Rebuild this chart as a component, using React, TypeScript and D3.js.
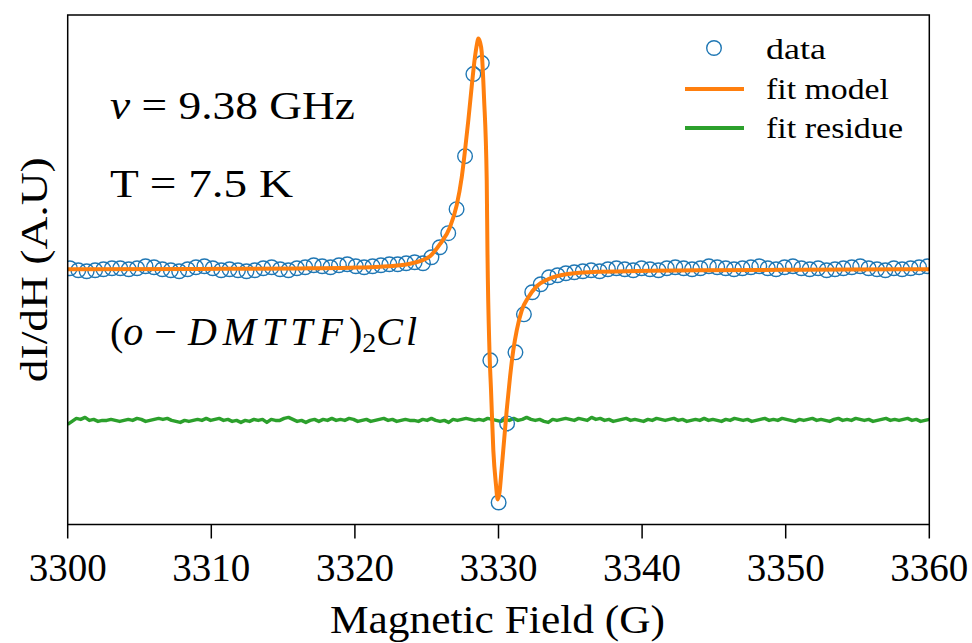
import React from "react";
import * as d3 from "d3";

// ---- data ----
const fieldTicks = [3300, 3310, 3320, 3330, 3340, 3350, 3360];

const dataX = [
  3300.15, 3300.74, 3301.32, 3301.91, 3302.49, 3303.08, 3303.66, 3304.25, 3304.83, 3305.42,
  3306.01, 3306.59, 3307.18, 3307.76, 3308.35, 3308.93, 3309.52, 3310.10, 3310.69, 3311.27,
  3311.86, 3312.45, 3313.03, 3313.62, 3314.20, 3314.79, 3315.37, 3315.96, 3316.54, 3317.13,
  3317.72, 3318.30, 3318.89, 3319.47, 3320.06, 3320.64, 3321.23, 3321.81, 3322.40, 3322.98,
  3323.57, 3324.16, 3324.74, 3325.33, 3325.91, 3326.50, 3327.08, 3327.67, 3328.25, 3328.84,
  3329.43, 3330.01, 3330.60, 3331.18, 3331.77, 3332.35, 3332.94, 3333.52, 3334.11, 3334.69,
  3335.28, 3335.87, 3336.45, 3337.04, 3337.62, 3338.21, 3338.79, 3339.38, 3339.96, 3340.55,
  3341.14, 3341.72, 3342.31, 3342.89, 3343.48, 3344.06, 3344.65, 3345.23, 3345.82, 3346.40,
  3346.99, 3347.58, 3348.16, 3348.75, 3349.33, 3349.92, 3350.50, 3351.09, 3351.67, 3352.26,
  3352.85, 3353.43, 3354.02, 3354.60, 3355.19, 3355.77, 3356.36, 3356.94, 3357.53, 3358.11,
  3358.70, 3359.29, 3359.87,
];

const dataY = [
  0.01, -0.01, -0.02, -0.01, 0.0, 0.01, 0.01, 0.0, 0.01, 0.03,
  0.02, 0.0, -0.01, -0.02, 0.0, 0.02, 0.03, 0.01, -0.01, 0.0,
  -0.01, -0.02, -0.01, 0.01, 0.02, 0.0, -0.01, 0.01, 0.02, 0.04,
  0.03, 0.02, 0.04, 0.05, 0.03, 0.02, 0.03, 0.04, 0.05, 0.05,
  0.06, 0.07, 0.06, 0.12, 0.22, 0.36, 0.6, 1.13, 1.95, 2.06,
  -0.91, -2.33, -1.54, -0.83, -0.45, -0.23, -0.15, -0.08, -0.06, -0.04,
  -0.03, -0.02, -0.01, -0.02, 0.0, 0.01, 0.0, -0.01, 0.01, 0.0,
  -0.01, 0.01, 0.02, 0.01, 0.0, 0.01, 0.03, 0.02, 0.01, 0.0,
  0.01, 0.02, 0.03, 0.01, 0.0, 0.02, 0.03, 0.01, 0.0, 0.01,
  -0.01, 0.0, 0.01, 0.02, 0.03, 0.01, 0.0, -0.01, 0.01, 0.0,
  0.01, 0.02, 0.03,
];

const fitX = [
  3300.0, 3309.21, 3316.18, 3319.66, 3321.75, 3323.14, 3323.84, 3324.53, 3325.23, 3325.92,
  3326.62, 3327.09, 3327.44, 3327.67, 3327.9, 3328.13, 3328.36, 3328.5, 3328.59, 3328.71,
  3328.83, 3328.99, 3329.18, 3329.23, 3329.37, 3329.48, 3329.64, 3329.83, 3329.94, 3330.07,
  3330.21, 3330.33, 3330.57, 3330.8, 3331.03, 3331.27, 3331.62, 3332.08, 3332.66, 3333.45,
  3334.7, 3337.07, 3340.55, 3344.04, 3351.0, 3360.0,
];

const fitY = [
  0.0, 0.003, 0.008, 0.015, 0.025, 0.04, 0.055, 0.08, 0.13, 0.25,
  0.42, 0.64, 0.92, 1.19, 1.49, 1.82, 2.12, 2.25, 2.305, 2.27,
  2.17, 1.72, 0.89, 0.19, -0.81, -1.21, -1.81, -2.16, -2.3, -2.23,
  -2.01, -1.81, -1.41, -1.08, -0.81, -0.61, -0.41, -0.28, -0.17, -0.1,
  -0.05, -0.025, -0.015, -0.01, -0.005, 0.0,
];

const residueOffset = -1.51;
const residue = [
  -0.04, -0.01, 0.02, 0.01, 0.03, 0.0, 0.01, -0.01, 0.0, 0.0,
  0.01, 0.0, -0.01, 0.0, 0.01, 0.0, 0.02, 0.01, -0.01, 0.0,
  0.01, 0.02, 0.01, 0.02, 0.0, -0.01, -0.02, 0.0, -0.01, 0.0,
  0.01, 0.0, 0.02, 0.0, 0.01, 0.02, 0.0, 0.01, -0.01, 0.0,
  -0.02, 0.0, -0.01, 0.01, 0.0, 0.01, -0.02, 0.01, 0.0, 0.0,
  0.02, 0.03, 0.01, -0.01, 0.0, -0.02, 0.0, 0.01, -0.01, 0.01,
  0.0, 0.02, 0.0, 0.01, 0.0, 0.02, 0.01, -0.01, 0.0, 0.01,
  -0.01, 0.0, 0.01, 0.02, 0.0, 0.01, -0.01, 0.0, 0.01, 0.0,
  0.0, -0.01, 0.01, 0.0, 0.02, 0.0, -0.01, 0.0, -0.02, 0.01,
  0.0, 0.01, 0.02, 0.01, 0.0, 0.01, 0.0, 0.02, 0.01, 0.0,
  -0.01, 0.01, 0.0, 0.02, 0.0, 0.01, 0.03, 0.01, 0.0, 0.01,
  -0.01, -0.02, 0.01, 0.0, 0.01, 0.02, 0.01, 0.0, 0.02, 0.01,
  0.0, 0.03, 0.01, 0.02, 0.0, 0.01, -0.01, 0.0, 0.01, 0.02,
  0.0, 0.01, 0.0, -0.01, 0.01, 0.0, 0.02, 0.01, 0.0, 0.01,
  0.02, 0.0, 0.01, -0.01, 0.0, 0.01, 0.0, 0.02, 0.0, 0.01,
  0.0, -0.01, 0.01, 0.0, 0.02, 0.01, 0.0, 0.01, -0.01, 0.0,
  0.01, 0.02, 0.0, 0.01, 0.0, 0.02, 0.01, 0.0, -0.01, 0.01,
  0.0, 0.01, 0.02, 0.0, 0.01, 0.0, -0.01, 0.01, 0.02, 0.0,
  0.01, 0.0, 0.02, 0.01, 0.0, 0.01, -0.01, 0.0, 0.01, 0.02,
  0.0, 0.01, 0.0, 0.01, 0.02, 0.0, 0.01, -0.01, 0.0, 0.01,
];

const legendLabels = ["data", "fit model", "fit residue"];

// ---- layout ----
const W = 972;
const H = 643;
const left = 67.7;
const right = 929.3;
const top = 15;
const bottom = 524.5;
const BLUE = "#1f77b4";
const ORANGE = "#ff7f0e";
const GREEN = "#2ca02c";
const FONT = "Liberation Serif";

export default function App() {
  const x = d3.scaleLinear().domain([3300, 3360]).range([left, right]);
  const y = d3.scaleLinear().domain([-2.55, 2.54]).range([bottom, top]);

  const fitLine = d3
    .line<number>()
    .x((_, i) => x(fitX[i]))
    .y((d) => y(d))
    .curve(d3.curveMonotoneX);

  const resX = d3.scaleLinear().domain([0, residue.length - 1]).range([3300, 3360]);
  const resLine = d3
    .line<number>()
    .x((_, i) => x(resX(i)))
    .y((d) => y(d + residueOffset));

  return (
    <svg width={W} height={H} style={{ position: "absolute", left: 0, top: 0, display: "block", background: "#fff" }}>
      <defs>
        <clipPath id="plot">
          <rect x={left} y={top} width={right - left} height={bottom - top} />
        </clipPath>
      </defs>
      <rect x={0} y={0} width={W} height={H} fill="#fff" />
      <g clipPath="url(#plot)">
        <path d={resLine(residue) || ""} fill="none" stroke={GREEN} strokeWidth={3.5} strokeLinejoin="round" />
        {dataY.map((d, i) => (
          <circle key={i} cx={x(dataX[i])} cy={y(d)} r={7.3} fill="none" stroke={BLUE} strokeWidth={1.4} />
        ))}
        <path d={fitLine(fitY) || ""} fill="none" stroke={ORANGE} strokeWidth={4} strokeLinejoin="round" />
      </g>
      {/* frame */}
      <rect x={left} y={top} width={right - left} height={bottom - top} fill="none" stroke="#000" strokeWidth={1.5} />
      {/* x ticks */}
      {fieldTicks.map((t) => (
        <g key={t}>
          <line x1={x(t)} x2={x(t)} y1={bottom} y2={bottom + 14} stroke="#000" strokeWidth={1.5} />
          <text x={x(t)} y={581} textAnchor="middle" fontSize={39} fontFamily={FONT} textLength={78} lengthAdjust="spacingAndGlyphs">
            {t}
          </text>
        </g>
      ))}
      <text x={497.5} y={633} textAnchor="middle" fontSize={39} fontFamily={FONT} textLength={335} lengthAdjust="spacingAndGlyphs">
        Magnetic Field (G)
      </text>
      <text
        transform={`translate(47,${(top + bottom) / 2}) rotate(-90)`}
        textAnchor="middle"
        fontSize={38}
        fontFamily={FONT}
        textLength={225}
        lengthAdjust="spacingAndGlyphs"
      >
        dI/dH (A.U)
      </text>
      {/* annotations */}
      <text x={110} y={119} fontSize={39} fontFamily={FONT} textLength={245} lengthAdjust="spacingAndGlyphs">
        <tspan fontStyle="italic">ν</tspan> = 9.38 GHz
      </text>
      <text x={110} y={197} fontSize={39} fontFamily={FONT} textLength={183} lengthAdjust="spacingAndGlyphs">
        T = 7.5 K
      </text>
      <text x={110} y={345} fontSize={40} fontFamily={FONT}>
        <tspan>(</tspan>
        <tspan fontStyle="italic">o</tspan>
        <tspan dx={11}>−</tspan>
        <tspan dx={11} fontStyle="italic" letterSpacing={6}>DMTTF</tspan>
        <tspan>)</tspan>
        <tspan fontSize={28} dy={7}>2</tspan>
        <tspan fontStyle="italic" dy={-7} letterSpacing={3}>Cl</tspan>
      </text>
      {/* legend */}
      <circle cx={714} cy={48} r={7.3} fill="none" stroke={BLUE} strokeWidth={1.4} />
      <line x1={685} x2={744} y1={89} y2={89} stroke={ORANGE} strokeWidth={4} />
      <line x1={685} x2={744} y1={128} y2={128} stroke={GREEN} strokeWidth={4} />
      {legendLabels.map((l, i) => (
        <text
          key={l}
          x={766}
          y={59 + i * 39.5}
          fontSize={29}
          fontFamily={FONT}
          textLength={[60, 123, 137][i]}
          lengthAdjust="spacingAndGlyphs"
        >
          {l}
        </text>
      ))}
    </svg>
  );
}
